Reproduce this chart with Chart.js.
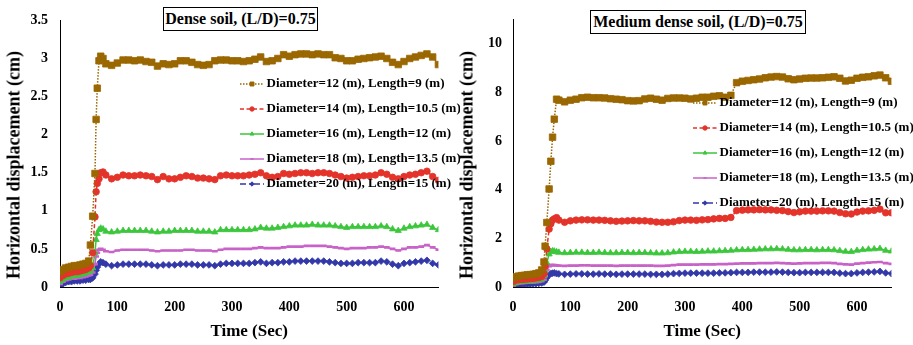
<!DOCTYPE html>
<html><head><meta charset="utf-8">
<script src="https://cdn.jsdelivr.net/npm/chart.js@4.4.1/dist/chart.umd.min.js"></script>
<style>
html,body{margin:0;padding:0;background:#fff;}
#wrap{position:relative;width:913px;height:345px;overflow:hidden;background:#fff;}
.panel{position:absolute;top:0;width:460px;height:345px;}
.ttl{position:absolute;border:1px solid #000;background:#fff;font:bold 16px 'Liberation Serif','Times New Roman',serif;text-align:center;box-sizing:border-box;white-space:nowrap;color:#000;}
.ytl{position:absolute;font:bold 18px 'Liberation Serif','Times New Roman',serif;white-space:nowrap;color:#000;transform:translate(-50%,-50%) rotate(-90deg);}
</style></head><body>
<div id="wrap">
 <div class="panel" style="left:0"><canvas id="c1" width="460" height="345"></canvas></div>
 <div class="panel" style="left:453px"><canvas id="c2" width="460" height="345"></canvas></div>
 <div class="ttl" style="left:163px;top:7px;width:155px;height:24px;line-height:22px">Dense soil, (L/D)=0.75</div>
 <div class="ttl" style="left:590px;top:10px;width:216px;height:24px;line-height:22px">Medium dense soil, (L/D)=0.75</div>
 <div class="ytl" style="left:14px;top:165px">Horizontal displacement (cm)</div>
 <div class="ytl" style="left:467px;top:165px">Horizontal displacement (cm)</div>
</div>
<script>
// ---------- DATA ----------
const seriesNames = [
  'Diameter=12 (m), Length=9 (m)',
  'Diameter=14 (m), Length=10.5 (m)',
  'Diameter=16 (m), Length=12 (m)',
  'Diameter=18 (m), Length=13.5 (m)',
  'Diameter=20 (m), Length=15 (m)'
];
const xTicks = [0, 100, 200, 300, 400, 500, 600];

// Dense soil (left) – time (sec)
const timeDense = [0,5,10,15,20,25,30,35,40,45,50, 53,57,61,63,65,68,71,75,
  80,90,100,110,120,130,140,150,160,170,180,190,200,210,220,230,240,250,260,270,
  280,290,300,310,320,330,340,350,360,370,380,390,400,410,420,430,440,450,460,470,
  480,490,500,510,520,530,540,550,560,570,580,590,600,610,620,630,640,650,660];
const dense_D12 = [0.20,0.23,0.25,0.26,0.27,0.28,0.28,0.29,0.30,0.31,0.34, 0.55,0.93,1.49,2.20,2.61,2.97,3.03,3.00,
  2.93,2.91,2.94,2.98,2.98,2.97,2.98,2.96,2.95,2.90, 2.93,2.92,2.93,2.97,2.97,2.95,2.92,2.91,2.92,2.97,
  2.98,2.98,2.97,2.97,2.96,2.97,2.99,3.02,2.96,2.97, 3.00,3.05,3.03,3.05,3.06,3.06,3.05,3.06,3.05,3.05,
  3.01,3.00,2.97,2.97,2.99,3.00,3.01,3.02,3.03,3.00, 2.95,2.92,2.96,3.00,3.02,3.04,3.06,3.02,2.92];
const dense_D14 = [0.12,0.15,0.17,0.18,0.19,0.20,0.20,0.21,0.22,0.23,0.25, 0.28,0.45,0.92,1.25,1.36,1.42,1.50,1.51,
  1.47,1.42,1.44,1.47,1.46,1.46,1.47,1.46,1.45,1.41, 1.45,1.42,1.42,1.44,1.46,1.45,1.43,1.43,1.42,1.41,
  1.46,1.47,1.46,1.46,1.46,1.47,1.48,1.50,1.46,1.44, 1.45,1.49,1.48,1.49,1.50,1.50,1.49,1.50,1.50,1.49,
  1.47,1.45,1.43,1.44,1.45,1.46,1.46,1.47,1.50,1.48, 1.44,1.42,1.45,1.47,1.48,1.50,1.52,1.45,1.40];
const dense_D16 = [0.07,0.10,0.12,0.13,0.14,0.15,0.15,0.16,0.17,0.18,0.20, 0.21,0.25,0.45,0.62,0.70,0.75,0.77,0.76,
  0.73,0.72,0.73,0.74,0.74,0.74,0.74,0.74,0.73,0.72, 0.73,0.73,0.74,0.74,0.74,0.74,0.73,0.73,0.73,0.72,
  0.75,0.75,0.75,0.75,0.75,0.75,0.76,0.78,0.77,0.77, 0.78,0.79,0.80,0.81,0.81,0.81,0.82,0.81,0.81,0.81,
  0.80,0.79,0.78,0.79,0.79,0.79,0.79,0.79,0.80,0.79, 0.76,0.74,0.77,0.79,0.80,0.81,0.82,0.78,0.75];
const dense_D18 = [0.04,0.07,0.09,0.10,0.11,0.11,0.12,0.12,0.13,0.14,0.15, 0.16,0.19,0.30,0.40,0.45,0.49,0.50,0.49,
  0.47,0.46,0.48,0.49,0.49,0.49,0.49,0.49,0.48,0.47, 0.48,0.48,0.48,0.48,0.49,0.49,0.48,0.48,0.48,0.47,
  0.49,0.50,0.50,0.50,0.50,0.50,0.51,0.52,0.51,0.51, 0.51,0.52,0.53,0.53,0.53,0.54,0.54,0.54,0.54,0.53,
  0.52,0.51,0.50,0.51,0.51,0.51,0.52,0.52,0.53,0.52, 0.50,0.48,0.50,0.52,0.52,0.53,0.55,0.52,0.49];
const dense_D20 = [0.00,0.04,0.06,0.07,0.07,0.08,0.08,0.08,0.09,0.09,0.10, 0.10,0.12,0.17,0.22,0.26,0.30,0.33,0.32,
  0.30,0.28,0.29,0.30,0.30,0.30,0.30,0.30,0.29,0.28, 0.29,0.29,0.29,0.30,0.30,0.30,0.29,0.29,0.29,0.28,
  0.30,0.31,0.31,0.31,0.31,0.31,0.32,0.33,0.31,0.32, 0.32,0.33,0.33,0.34,0.34,0.34,0.34,0.34,0.34,0.33,
  0.32,0.31,0.31,0.31,0.32,0.32,0.32,0.32,0.34,0.33, 0.30,0.28,0.31,0.32,0.33,0.34,0.35,0.31,0.29];

// Medium dense soil (right) – time (sec)
const timeMedium = [0,5,10,15,20,25,30,35,40,45,50, 54,56,59,63,66,69,72,76,
  80,90,100,110,120,130,140,150,160,170,180,190,200,210,220,230,240,250,260,270,
  280,290,300,310,320,330,340,350,360,370,380,390,400,410,420,430,440,450,460,470,
  480,490,500,510,520,530,540,550,560,570,580,590,600,610,620,630,640,650,660];
const med_D12 = [0.38,0.42,0.45,0.47,0.48,0.50,0.51,0.52,0.55,0.58,0.70, 1.03,1.68,2.65,4.03,5.17,6.16,6.90,7.72,
  7.68,7.61,7.68,7.72,7.78,7.80,7.78,7.78,7.77,7.74, 7.72,7.70,7.66,7.65,7.66,7.73,7.76,7.72,7.68,7.75,
  7.77,7.77,7.76,7.73,7.76,7.80,7.80,7.84,7.86,7.80, 7.88,8.40,8.46,8.49,8.52,8.55,8.60,8.63,8.65,8.63,
  8.56,8.52,8.55,8.58,8.59,8.59,8.60,8.62,8.64,8.58, 8.47,8.50,8.58,8.62,8.64,8.68,8.71,8.60,8.46];
const med_D14 = [0.22,0.28,0.30,0.31,0.32,0.33,0.34,0.35,0.37,0.39,0.43, 0.55,0.85,1.57,2.38,2.60,2.75,2.80,2.85,
  2.75,2.66,2.72,2.75,2.76,2.76,2.75,2.75,2.74,2.72, 2.70,2.71,2.72,2.73,2.72,2.72,2.70,2.67,2.66,2.66,
  2.68,2.73,2.75,2.75,2.74,2.76,2.77,2.80,2.82,2.82, 2.86,3.14,3.16,3.17,3.17,3.18,3.17,3.17,3.15,3.14,
  3.10,3.06,3.09,3.12,3.12,3.12,3.13,3.13,3.12,3.06, 3.01,3.00,3.08,3.12,3.13,3.15,3.20,3.05,3.05];
const med_D16 = [0.12,0.18,0.21,0.22,0.23,0.24,0.25,0.26,0.27,0.29,0.32, 0.45,0.65,1.00,1.35,1.45,1.48,1.47,1.44,
  1.42,1.40,1.41,1.42,1.42,1.41,1.41,1.42,1.41,1.40, 1.40,1.41,1.41,1.40,1.41,1.41,1.40,1.39,1.39,1.40,
  1.43,1.45,1.46,1.46,1.45,1.46,1.47,1.47,1.48,1.49, 1.50,1.52,1.53,1.53,1.54,1.55,1.56,1.56,1.57,1.56,
  1.54,1.52,1.52,1.53,1.53,1.52,1.53,1.53,1.52,1.49, 1.46,1.45,1.50,1.53,1.55,1.56,1.58,1.50,1.47];
const med_D18 = [0.06,0.12,0.15,0.16,0.17,0.18,0.18,0.19,0.20,0.21,0.24, 0.30,0.45,0.70,0.85,0.90,0.90,0.90,0.89,
  0.88,0.87,0.88,0.88,0.89,0.89,0.88,0.88,0.88,0.88, 0.87,0.88,0.88,0.88,0.88,0.88,0.88,0.87,0.87,0.88,
  0.90,0.92,0.92,0.92,0.92,0.93,0.93,0.93,0.94,0.94, 0.95,0.96,0.97,0.97,0.97,0.98,0.98,0.98,0.99,0.98,
  0.97,0.96,0.97,0.98,0.98,0.98,0.99,0.99,0.98,0.95, 0.93,0.92,0.96,0.98,1.00,1.02,1.03,0.98,0.95];
const med_D20 = [0.00,0.06,0.09,0.10,0.11,0.12,0.12,0.13,0.14,0.15,0.17, 0.20,0.27,0.38,0.50,0.55,0.57,0.58,0.55,
  0.54,0.52,0.53,0.54,0.54,0.53,0.53,0.54,0.53,0.53, 0.52,0.53,0.53,0.53,0.53,0.53,0.52,0.52,0.52,0.53,
  0.55,0.56,0.57,0.57,0.57,0.57,0.57,0.57,0.58,0.58, 0.59,0.60,0.60,0.60,0.61,0.61,0.61,0.61,0.62,0.61,
  0.60,0.59,0.59,0.60,0.60,0.60,0.60,0.60,0.60,0.57, 0.55,0.55,0.58,0.60,0.61,0.62,0.64,0.58,0.55];

// ---------- STYLE ----------
const FONT = "'Liberation Serif','Times New Roman',serif";
const styles = [
  {color:'#9a6700', dash:[1.5,1.5], width:1.5, point:'rect',     r:4.6, pbw:0.8, lr:2.8},
  {color:'#e3332a', dash:[4,2.5],   width:1.5, point:'circle',   r:3.3, pbw:0.8, lr:2.2},
  {color:'#3cc63c', dash:[],        width:1.5, point:'triangle', r:3.6, pbw:0.8, lr:2.2},
  {color:'#c862c8', dash:[],        width:1.5, point:'line',     r:2.9, pbw:2.6, lr:1.6},
  {color:'#3338a8', dash:[6,3,2,3], width:1.5, point:'rectRot',  r:3.4, pbw:0.8, lr:2.2}
];

function makeIcon(s) {
  const c = document.createElement('canvas');
  c.width = 24; c.height = 10;
  const g = c.getContext('2d');
  g.strokeStyle = s.color; g.fillStyle = s.color; g.lineWidth = s.width;
  g.setLineDash(s.dash);
  g.beginPath(); g.moveTo(0, 5); g.lineTo(24, 5); g.stroke();
  g.setLineDash([]);
  g.lineWidth = s.point === 'line' ? 1.5 : 1;
  Chart.helpers.drawPoint(g, {pointStyle: s.point, radius: s.lr, borderWidth: 1, rotation: 0}, 12, 5);
  return c;
}

function buildDatasets(times, seriesList) {
  return seriesList.map((vals, i) => {
    const s = styles[i];
    return {
      label: seriesNames[i],
      data: times.map((t, k) => ({x: t, y: vals[k]})),
      borderColor: s.color, backgroundColor: s.color,
      borderWidth: s.width, borderDash: s.dash,
      pointStyle: s.point, pointRadius: s.r, pointBorderWidth: s.pbw,
      pointBackgroundColor: s.color, pointBorderColor: s.color,
      pointHoverRadius: s.r, tension: 0, fill: false
    };
  });
}

function legendPlugin(left, top) {
  return {
    id: 'legendPlace',
    afterInit(chart) {
      const lg = chart.legend;
      if (lg) lg._layers = () => [{z: 10, draw: (ca) => lg.draw(ca)}];
    },
    afterLayout(chart) {
      const lg = chart.legend;
      const w = lg.width, h = lg.height;
      lg.left = left; lg.top = top; lg.right = left + w; lg.bottom = top + h;
    }
  };
}

function makeChart(id, times, seriesList, yMax, yStep, yPad, legendTop) {
  const icons = styles.map(makeIcon);
  return new Chart(document.getElementById(id), {
    type: 'line',
    data: {datasets: buildDatasets(times, seriesList)},
    options: {
      responsive: false, animation: false, devicePixelRatio: 1,
      events: [],
      layout: {padding: {left: 0, right: 21.6, top: 16, bottom: 0}},
      plugins: {
        title: {display: false}, tooltip: {enabled: false},
        legend: {
          display: true, position: 'chartArea', align: 'start',
          labels: {
            usePointStyle: true, pointStyleWidth: 16, padding: 12,
            color: '#000', font: {family: FONT, size: 13, weight: 'bold'},
            generateLabels(chart) {
              const items = Chart.defaults.plugins.legend.labels.generateLabels(chart);
              items.forEach((it, i) => { it.pointStyle = icons[i]; it.fontColor = '#000'; });
              return items;
            }
          }
        }
      },
      scales: {
        x: {
          type: 'linear', min: 0, max: 660,
          afterBuildTicks(sc) { sc.ticks = xTicks.map(v => ({value: v})); },
          afterFit(sc) { sc.height = 58; },
          grid: {display: false, drawTicks: false},
          border: {display: true, color: '#000', width: 1},
          ticks: {color: '#000', font: {family: FONT, size: 14, weight: 'bold'}, padding: 12, maxRotation: 0},
          title: {display: true, text: 'Time (Sec)', color: '#000', font: {family: FONT, size: 17, weight: 'bold'}, padding: {top: 0, bottom: 3}}
        },
        y: {
          type: 'linear', min: 0, max: yMax,
          ticks: {stepSize: yStep, includeBounds: false, color: '#000', font: {family: FONT, size: 14, weight: 'bold'}, padding: yPad,
                  callback: (v) => String(Math.round(v * 100) / 100)},
          afterFit(sc) { sc.width = 60; },
          grid: {display: false, drawTicks: false},
          border: {display: true, color: '#000', width: 1},
          title: {display: false}
        }
      }
    },
    plugins: [legendPlugin(244 - 12, legendTop)]
  });
}

makeChart('c1', timeDense, [dense_D12, dense_D14, dense_D16, dense_D18, dense_D20], 3.5, 0.5, 12, 65.5);
makeChart('c2', timeMedium, [med_D12, med_D14, med_D16, med_D18, med_D20], 11, 2, 11, 84.5);
</script>
</body></html>
